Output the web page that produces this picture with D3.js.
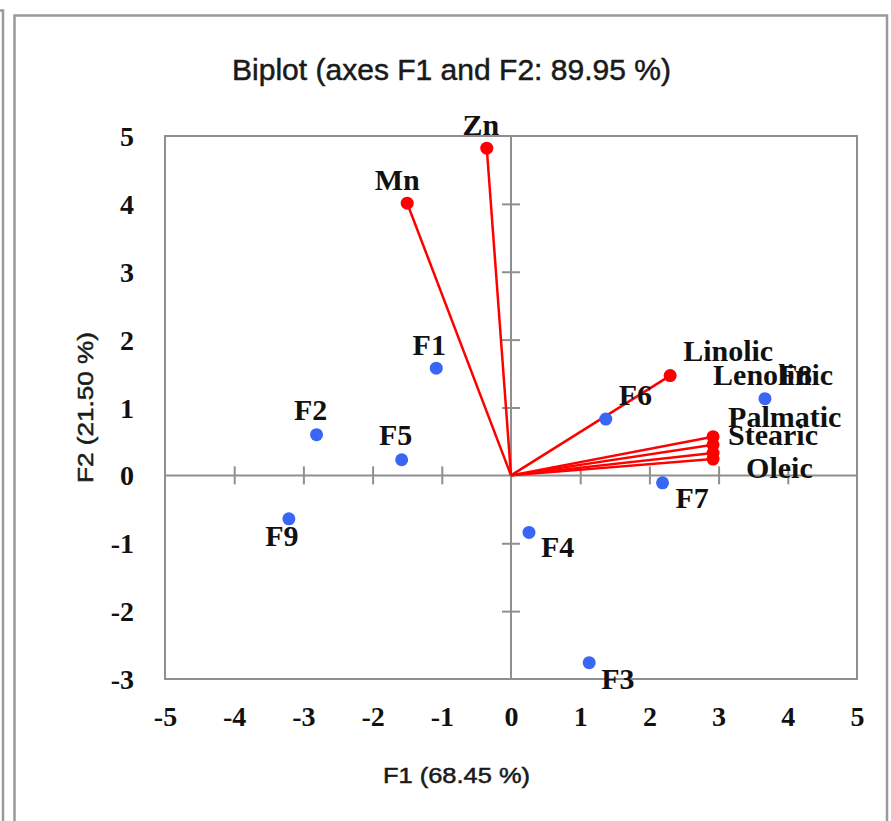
<!DOCTYPE html>
<html>
<head>
<meta charset="utf-8">
<script src="https://cdn.jsdelivr.net/npm/d3@7"></script>
<style>
  html, body { margin: 0; padding: 0; background: #fff; }
  svg { display: block; }
</style>
</head>
<body>
<svg id="chart" width="891" height="821"></svg>
<script>
// ---------- data ----------
const obsNames = ["F1", "F2", "F3", "F4", "F5", "F6", "F7", "F8", "F9"];
const obsF1 = [-1.08, -2.81, 1.13, 0.26, -1.58, 1.37, 2.19, 3.67, -3.21];
const obsF2 = [1.58, 0.60, -2.76, -0.84, 0.23, 0.83, -0.11, 1.13, -0.64];

const varNames = ["Zn", "Mn", "Linolic", "Lenolinic", "Palmatic", "Stearic", "Oleic"];
const varF1 = [-0.35, -1.50, 2.30, 2.92, 2.92, 2.92, 2.92];
const varF2 = [4.82, 4.01, 1.47, 0.57, 0.45, 0.33, 0.24];

const xTicks = [-5, -4, -3, -2, -1, 0, 1, 2, 3, 4, 5];
const yTicks = [-3, -2, -1, 0, 1, 2, 3, 4, 5];

const chartTitle = "Biplot (axes F1 and F2: 89.95 %)";
const xTitle = "F1 (68.45 %)";
const yTitle = "F2 (21.50 %)";

// ---------- layout (label offsets in px; anchor) ----------
const obsLabelPos = {
  F1: [-7, -13, "middle"], F2: [-6, -15, "middle"], F3: [12, 26, "start"],
  F4: [12, 25, "start"], F5: [-6, -15, "middle"], F6: [13, -14, "start"],
  F7: [13, 25, "start"], F8: [14, -14, "start"], F9: [-7, 27, "middle"]
};
const varLabelPos = {
  Zn: [-6, -13, "middle"], Mn: [-10, -13, "middle"], Linolic: [13, -15, "start"],
  Lenolinic: [0, -52, "start"], Palmatic: [15, -18, "start"],
  Stearic: [15, -8, "start"], Oleic: [33, 19, "start"]
};

const svg = d3.select("#chart");
const x = d3.scaleLinear().domain([-5, 5]).range([165, 857]);
const y = d3.scaleLinear().domain([-3, 5]).range([679, 136]);

const gray = "#8f8f8f";
const serif = "'Liberation Serif', 'Times New Roman', serif";
const sans = "'Liberation Sans', Arial, sans-serif";
const fmt = d => String(d);

// outer frames
svg.append("path").attr("d", "M0,10.5 H3 V821")
  .attr("fill", "none").attr("stroke", "#9a9a9a").attr("stroke-width", 2.5);
svg.append("path").attr("d", "M14.5,830 V15.5 H887 V830")
  .attr("fill", "none").attr("stroke", "#9a9a9a").attr("stroke-width", 2.5);

// plot frame
svg.append("rect")
  .attr("x", x(-5)).attr("y", y(5))
  .attr("width", x(5) - x(-5)).attr("height", y(-3) - y(5))
  .attr("fill", "none").attr("stroke", gray).attr("stroke-width", 2);

// zero axes
svg.append("line").attr("x1", x(-5)).attr("x2", x(5)).attr("y1", y(0)).attr("y2", y(0))
  .attr("stroke", gray).attr("stroke-width", 2);
svg.append("line").attr("x1", x(0)).attr("x2", x(0)).attr("y1", y(-3)).attr("y2", y(5))
  .attr("stroke", gray).attr("stroke-width", 2);

// crossing ticks on zero axes via d3 axes
const xInner = svg.append("g").attr("transform", `translate(0,${y(0)})`)
  .call(d3.axisBottom(x).tickValues(xTicks.filter(d => d !== 0 && Math.abs(d) !== 5)).tickSize(9).tickFormat(""));
xInner.select(".domain").remove();
xInner.selectAll(".tick line").attr("y1", -9).attr("y2", 9).attr("stroke", gray).attr("stroke-width", 2);

const yInner = svg.append("g").attr("transform", `translate(${x(0)},0)`)
  .call(d3.axisLeft(y).tickValues(yTicks.filter(d => d !== 0 && d !== -3 && d !== 5)).tickSize(9).tickFormat(""));
yInner.select(".domain").remove();
yInner.selectAll(".tick line").attr("x1", -9).attr("x2", 9).attr("stroke", gray).attr("stroke-width", 2);

// tick labels
const xLab = svg.append("g").attr("transform", "translate(0,726)")
  .call(d3.axisBottom(x).tickValues(xTicks).tickSize(0).tickFormat(fmt));
xLab.select(".domain").remove();
xLab.selectAll(".tick text").attr("y", 0).attr("dy", 0)
  .attr("font-family", serif).attr("font-weight", "bold").attr("font-size", 28).attr("fill", "#111");

const yLab = svg.append("g").attr("transform", "translate(134,0)")
  .call(d3.axisLeft(y).tickValues(yTicks).tickSize(0).tickPadding(0).tickFormat(fmt));
yLab.select(".domain").remove();
yLab.selectAll(".tick text").attr("dy", "0.34em")
  .attr("font-family", serif).attr("font-weight", "bold").attr("font-size", 28).attr("fill", "#111");

// titles
svg.append("text").attr("x", 451.5).attr("y", 80).attr("text-anchor", "middle")
  .attr("font-family", sans).attr("font-size", 29).attr("fill", "#1a1a1a")
  .attr("stroke", "#1a1a1a").attr("stroke-width", 0.5)
  .attr("textLength", 439).attr("lengthAdjust", "spacingAndGlyphs")
  .text(chartTitle);
svg.append("text").attr("x", 456.5).attr("y", 783).attr("text-anchor", "middle")
  .attr("font-family", sans).attr("font-size", 22).attr("fill", "#1a1a1a")
  .attr("stroke", "#1a1a1a").attr("stroke-width", 0.5)
  .attr("textLength", 147).attr("lengthAdjust", "spacingAndGlyphs")
  .text(xTitle);
svg.append("text").attr("transform", "translate(93,407.5) rotate(-90)").attr("text-anchor", "middle")
  .attr("font-family", sans).attr("font-size", 22).attr("fill", "#1a1a1a")
  .attr("stroke", "#1a1a1a").attr("stroke-width", 0.5)
  .attr("textLength", 151).attr("lengthAdjust", "spacingAndGlyphs")
  .text(yTitle);

// variable vectors
const vars = varNames.map((n, i) => ({ name: n, f1: varF1[i], f2: varF2[i] }));
const obs = obsNames.map((n, i) => ({ name: n, f1: obsF1[i], f2: obsF2[i] }));

svg.append("g").selectAll("line").data(vars).join("line")
  .attr("x1", x(0)).attr("y1", y(0))
  .attr("x2", d => x(d.f1)).attr("y2", d => y(d.f2))
  .attr("stroke", "#ff0000").attr("stroke-width", 2.5);
svg.append("g").selectAll("circle").data(vars).join("circle")
  .attr("cx", d => x(d.f1)).attr("cy", d => y(d.f2)).attr("r", 6.5)
  .attr("fill", "#ff0000");

// observations
svg.append("g").selectAll("circle").data(obs).join("circle")
  .attr("cx", d => x(d.f1)).attr("cy", d => y(d.f2)).attr("r", 6.5)
  .attr("fill", "#3a66f5");

// labels
function labels(data, pos) {
  svg.append("g").selectAll("text").data(data).join("text")
    .attr("x", d => x(d.f1) + pos[d.name][0])
    .attr("y", d => y(d.f2) + pos[d.name][1])
    .attr("text-anchor", d => pos[d.name][2])
    .attr("font-family", serif).attr("font-weight", "bold").attr("font-size", 30)
    .attr("fill", "#111")
    .text(d => d.name);
}
labels(vars, varLabelPos);
labels(obs, obsLabelPos);
</script>
</body>
</html>
